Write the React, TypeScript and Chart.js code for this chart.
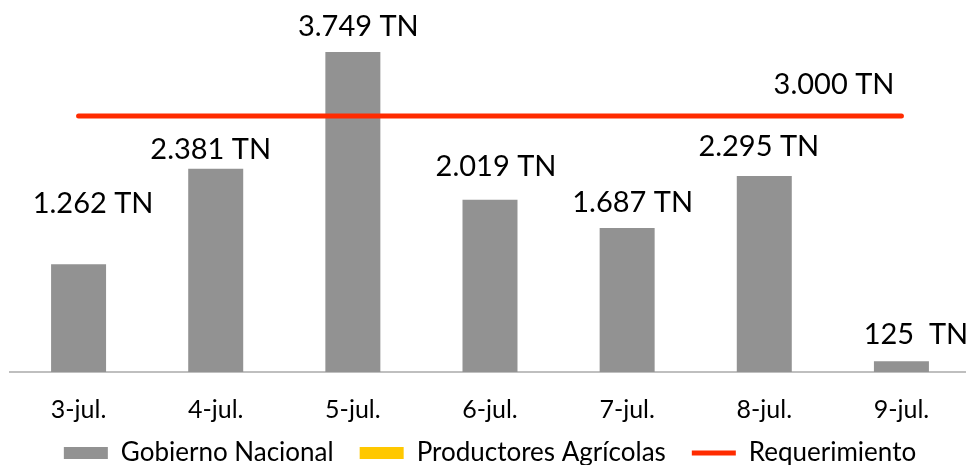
import React, { useEffect, useRef } from "react";
import { Chart, registerables } from "chart.js";

Chart.register(...registerables);

// ---- data ----
const categories = ["3-jul.", "4-jul.", "5-jul.", "6-jul.", "7-jul.", "8-jul.", "9-jul."];
const gobiernoNacional = [1262, 2381, 3749, 2019, 1687, 2295, 125];
const productoresAgricolas = [0, 0, 0, 0, 0, 0, 0];
const requerimiento = [3000, 3000, 3000, 3000, 3000, 3000, 3000];
const barValueLabels = ["1.262 TN", "2.381 TN", "3.749 TN", "2.019 TN", "1.687 TN", "2.295 TN", "125  TN"];
const requerimientoLabel = "3.000 TN";
const seriesNames = ["Gobierno Nacional", "Productores Agrícolas", "Requerimiento"];

// ---- styling ----
const FONT = "Lato";
const GRAY = "#929292";
const YELLOW = "#FFC800";
const RED = "#FF2B00";
// label placement relative to the top of each bar (annotation styling)
const labelShiftX = [14.5, -5, 5.5, 6, 5.5, -5.5, 14.5];
const labelLift = [51, 10, 16, 24, 16, 20, 17];
const LEGEND_RAISE = 33;

const valueLabelPlugin = {
  id: "valueLabels",
  afterDatasetsDraw(chart: any) {
    const ctx = chart.ctx;
    ctx.save();
    ctx.font = `29px ${FONT}`;
    ctx.fillStyle = "#000";
    ctx.textBaseline = "alphabetic";
    ctx.textAlign = "center";
    const barMeta = chart.getDatasetMeta(0);
    barMeta.data.forEach((el: any, i: number) => {
      ctx.fillText(barValueLabels[i], el.x + labelShiftX[i], el.y - labelLift[i]);
    });
    const lineMeta = chart.getDatasetMeta(2);
    const last = lineMeta.data[lineMeta.data.length - 1];
    ctx.textAlign = "right";
    ctx.fillText(requerimientoLabel, last.x - 7, last.y - 22);
    ctx.restore();
  },
};

const legendRaisePlugin = {
  id: "legendRaise",
  afterLayout(chart: any) {
    const l = chart.legend;
    if (l) {
      l.top -= LEGEND_RAISE;
      l.bottom -= LEGEND_RAISE;
    }
  },
};

export default function App() {
  const ref = useRef<HTMLCanvasElement | null>(null);

  useEffect(() => {
    if (!ref.current) return;
    const chart = new Chart(ref.current, {
      type: "bar",
      data: {
        labels: categories,
        datasets: [
          {
            type: "bar",
            label: seriesNames[0],
            data: gobiernoNacional,
            backgroundColor: GRAY,
            borderWidth: 0,
            grouped: false,
            categoryPercentage: 1,
            barPercentage: 0.401,
            pointStyle: "rect",
            order: 1,
          },
          {
            type: "bar",
            label: seriesNames[1],
            data: productoresAgricolas,
            backgroundColor: YELLOW,
            borderWidth: 0,
            grouped: false,
            categoryPercentage: 1,
            barPercentage: 0.401,
            pointStyle: "rect",
            order: 2,
          },
          {
            type: "line",
            label: seriesNames[2],
            data: requerimiento,
            borderColor: RED,
            backgroundColor: RED,
            borderWidth: 5,
            borderCapStyle: "round",
            pointRadius: 0,
            pointHoverRadius: 0,
            pointStyle: "line",
            fill: false,
            order: 0,
          },
        ],
      } as any,
      options: {
        animation: false,
        responsive: false,
        maintainAspectRatio: false,
        layout: { padding: { left: 10, right: 5, top: 0, bottom: 1 } },
        scales: {
          x: {
            offset: true,
            grid: { display: false, drawTicks: false },
            border: { display: true, color: "#BFBFBF", width: 2 },
            ticks: {
              color: "#000",
              font: { family: FONT, size: 25 },
              padding: 22.5,
              maxRotation: 0,
              autoSkip: false,
            },
          },
          y: {
            display: false,
            min: 0,
            max: 4358,
          },
        },
        plugins: {
          legend: {
            display: true,
            position: "bottom",
            labels: {
              usePointStyle: true,
              pointStyleWidth: 44,
              boxHeight: 12,
              padding: 26,
              color: "#000",
              font: { family: FONT, size: 26 },
              sort: (a: any, b: any) => a.datasetIndex - b.datasetIndex,
            },
          },
          tooltip: { enabled: false },
          title: { display: false },
        },
      } as any,
      plugins: [valueLabelPlugin, legendRaisePlugin],
    });
    return () => chart.destroy();
  }, []);

  return (
    <div
      style={{
        position: "fixed",
        left: 0,
        top: 0,
        width: 966,
        height: 465,
        overflow: "hidden",
        background: "#fff",
      }}
    >
      <canvas ref={ref} width={975} height={510} style={{ display: "block" }} />
    </div>
  );
}
